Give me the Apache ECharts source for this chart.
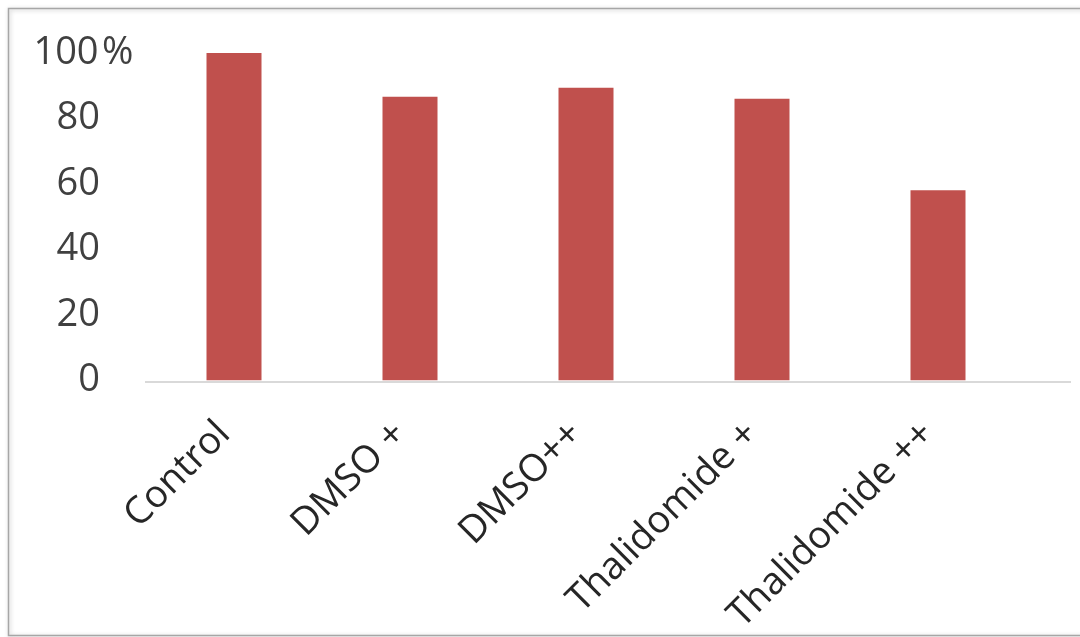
<!DOCTYPE html>
<html>
<head>
<meta charset="utf-8">
<style>
  html, body { margin: 0; padding: 0; background: #ffffff; }
  #chart { width: 1080px; height: 637px; }
</style>
<script src="https://cdn.jsdelivr.net/npm/echarts@6/dist/echarts.min.js"></script>
</head>
<body>
<div id="chart"></div>
<script>
// Cell viability per treatment group (percent of control)
const categories = ['Control', 'DMSO +', 'DMSO++', 'Thalidomide +', 'Thalidomide ++'];
const viability = [100, 86.6, 89.4, 86.0, 58.1];
const yTicks = [0, 20, 40, 60, 80, 100];

const chart = echarts.init(document.getElementById('chart'));

chart.setOption({
  animation: false,
  backgroundColor: '#ffffff',
  graphic: [{
    // outer frame with a soft shadow
    type: 'rect',
    shape: { x: 8.5, y: 8.5, width: 1100, height: 627 },
    style: {
      fill: 'transparent',
      stroke: '#a6a6a6',
      lineWidth: 1.5,
      shadowBlur: 4,
      shadowColor: 'rgba(0,0,0,0.25)',
      shadowOffsetX: 1,
      shadowOffsetY: 1
    },
    silent: true,
    z: -1
  }, {
    // baseline running the full width of the plot frame
    type: 'line',
    shape: { x1: 145, y1: 382, x2: 1071, y2: 382 },
    style: { stroke: '#d9d9d9', lineWidth: 2 },
    silent: true,
    z: 0
  }],
  grid: { left: 146, right: 54, top: 53, bottom: 255, containLabel: false },
  xAxis: {
    type: 'category',
    data: categories,
    axisLine: { show: false },
    axisTick: { show: false },
    axisLabel: {
      rotate: 45,
      interval: 0,
      margin: 38,
      padding: [0, 14, 0, 0],
      fontFamily: 'Open Sans',
      fontSize: 38,
      color: '#262626'
    }
  },
  yAxis: {
    type: 'value',
    min: yTicks[0],
    max: yTicks[yTicks.length - 1],
    interval: 20,
    axisLine: { show: false },
    axisTick: { show: false },
    splitLine: { show: false },
    axisLabel: {
      align: 'left',
      margin: 116,
      formatter: function (v) {
        return v === 100 ? '{h|' + v + '}{p|%}' : '{n|' + v + '}';
      },
      rich: {
        n: { width: 70, align: 'right', fontFamily: 'Open Sans', fontSize: 38, color: '#404040' },
        h: { width: 72, align: 'center', fontFamily: 'Open Sans', fontSize: 38, color: '#404040' },
        p: { fontFamily: 'Open Sans', fontSize: 38, color: '#404040' }
      }
    }
  },
  series: [{
    type: 'bar',
    data: viability,
    barWidth: 55,
    itemStyle: { color: '#C0504D' }
  }]
});
</script>
</body>
</html>
